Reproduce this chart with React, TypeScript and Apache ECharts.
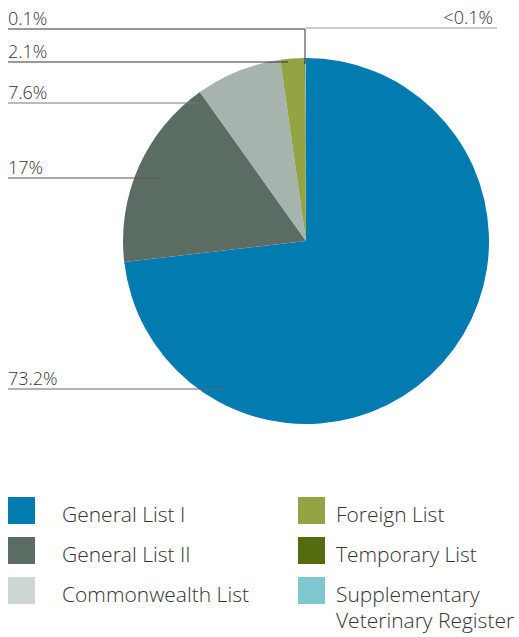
import React, { useEffect, useRef } from "react";
import * as echarts from "echarts";

const categories = [
  "General List I",
  "General List II",
  "Commonwealth List",
  "Foreign List",
  "Temporary List",
  "Supplementary Veterinary Register",
];
const legendLabels = [
  "General List I",
  "General List II",
  "Commonwealth List",
  "Foreign List",
  "Temporary List",
  "Supplementary\nVeterinary Register",
];
const values = [73.2, 17, 7.6, 2.1, 0.1, 0.05];
const valueLabels = ["73.2%", "17%", "7.6%", "2.1%", "0.1%", "<0.1%"];
const sliceColors = ["#027bb0", "#5b6d63", "#a6b4ad", "#94a445", "#546b10", "#80c6cf"];
const legendColors = ["#027bb0", "#5b6d63", "#cdd6d2", "#94a445", "#546b10", "#80c6cf"];

// label leader placement (layout only)
const labelLineY = [389, 178, 103, 62, 29, 28];
const labelLineEndX = [225, 160, 199, 288, 305, 306];
const labelLineColors = ["#666", "#555", "#777", "#333", "#333", "#999"];

const FONT = "Open Sans";

export default function App() {
  const ref = useRef<HTMLDivElement>(null);
  useEffect(() => {
    const chart = echarts.init(ref.current!, null, { renderer: "svg" });

    const leaders = categories.map((_, i) => {
      const y = labelLineY[i];
      const ex = labelLineEndX[i];
      let pts: number[][];
      if (i === 5) pts = [[ex, y], [497, y]];
      else if (i === 4) pts = [[ex, 64], [ex, y], [8, y]];
      else pts = [[ex, y], [8, y]];
      return {
        type: "polyline",
        z: 100,
        shape: { points: pts },
        style: { stroke: labelLineColors[i], lineWidth: 1, fill: null },
        silent: true,
      };
    });

    const colX = [8, 298];
    const colTextX = [62, 336];
    const legendTop = 497;
    const rowPitch = 40;
    const legendEls: any[] = [];
    categories.forEach((_, i) => {
      const col = i < 3 ? 0 : 1;
      const row = i % 3;
      const y0 = legendTop + rowPitch * row;
      legendEls.push({
        type: "rect",
        shape: { x: colX[col], y: y0, width: 27, height: 27 },
        style: { fill: legendColors[i] },
        silent: true,
      });
      legendEls.push({
        type: "text",
        x: colTextX[col],
        y: y0 + 3.5,
        style: {
          text: legendLabels[i],
          fontFamily: FONT,
          fontSize: 21,
          fontWeight: 300,
          lineHeight: 26,
          fill: "#333",
          align: "left",
          verticalAlign: "top",
        },
        silent: true,
      });
    });

    chart.setOption({
      animation: false,
      graphic: [...leaders, ...legendEls],
      series: [
        {
          type: "pie",
          center: [306, 241],
          radius: 183,
          startAngle: 90,
          clockwise: true,
          avoidLabelOverlap: false,
          minAngle: 0,
          data: categories.map((c, i) => ({
            name: c,
            value: values[i],
            itemStyle: { color: sliceColors[i] },
          })),
          label: {
            show: true,
            position: "outside",
            formatter: (p: any) => valueLabels[p.dataIndex],
            fontFamily: FONT,
            fontSize: 18,
            fontWeight: 300,
            color: "#333",
          },
          labelLine: { show: false },
          labelLayout: (p: any) => {
            const i = p.dataIndex;
            const y = labelLineY[i];
            if (i === 5) {
              return { x: 493, y: y - 2, align: "right", verticalAlign: "bottom" };
            }
            return { x: 8, y: y - 2, align: "left", verticalAlign: "bottom" };
          },
        },
      ],
    });
    return () => chart.dispose();
  }, []);
  return (
    <div
      ref={ref}
      style={{ position: "fixed", left: 0, top: 0, width: 519, height: 637, background: "#fff" }}
    />
  );
}
